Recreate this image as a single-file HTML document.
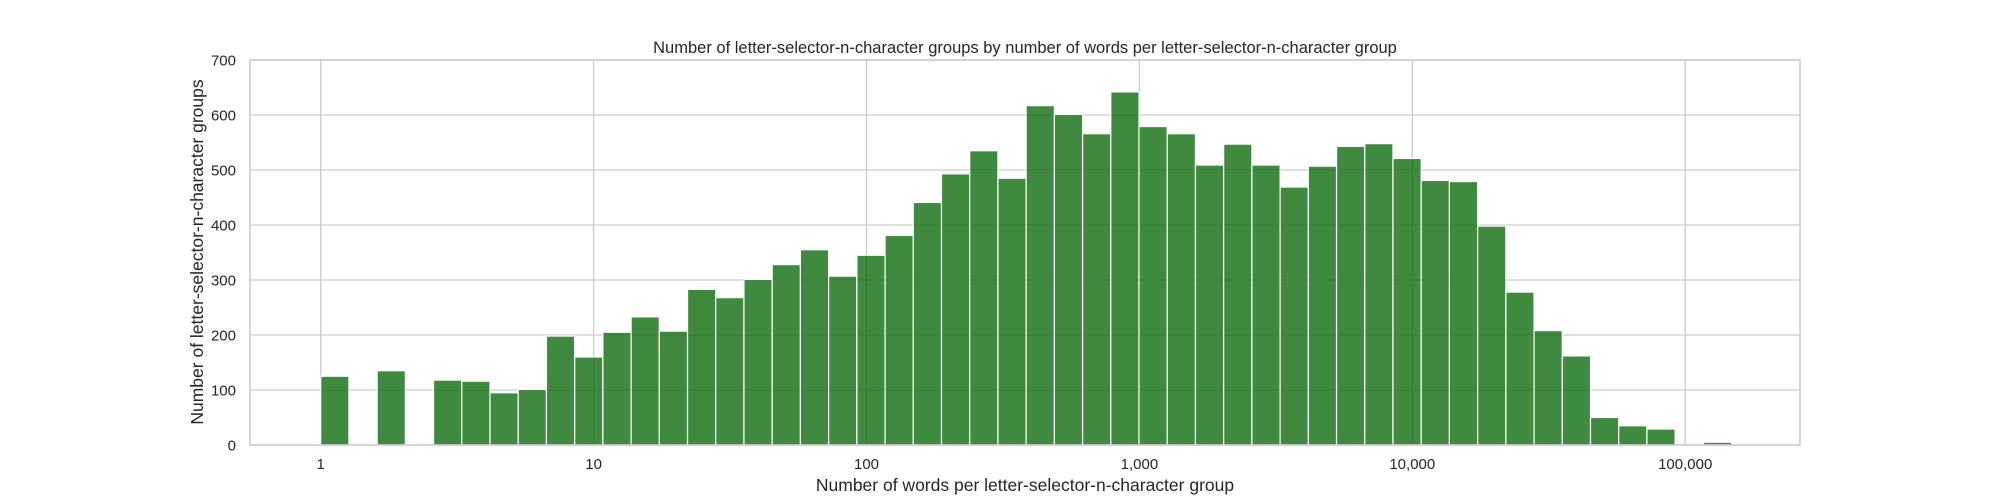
<!DOCTYPE html>
<html><head><meta charset="utf-8"><style>
html,body{margin:0;padding:0;background:#fff;}
svg{display:block;font-family:"Liberation Sans",Arial,sans-serif;}
</style></head><body>
<svg id="chart" width="2000" height="500" viewBox="0 0 2000 500">
<g id="grid"></g>
<g id="bars"></g>
<rect x="250" y="60" width="1550" height="385" fill="none" stroke="#cccccc" stroke-width="1.6"/>
<g id="yticks"></g>
<g id="xticks"></g>
<text x="1025" y="53" text-anchor="middle" font-size="16.5" fill="#262626">Number of letter-selector-n-character groups by number of words per letter-selector-n-character group</text>
<text x="1025" y="491" text-anchor="middle" font-size="17.5" fill="#262626">Number of words per letter-selector-n-character group</text>
<text transform="translate(203,252) rotate(-90)" text-anchor="middle" font-size="17.5" fill="#262626">Number of letter-selector-n-character groups</text>
</svg>
<script>
const counts = [125,0,135,0,118,116,95,101,198,160,205,233,207,283,268,301,328,355,307,345,381,441,493,535,485,617,601,566,642,579,566,509,547,509,469,507,543,548,521,481,479,398,278,208,162,50,35,29,0,5];
const binWidthLog = 0.1034;
const yTicks = [0,100,200,300,400,500,600,700];
const xTickValues = [1,10,100,1000,10000,100000];
const xTickLabels = ["1","10","100","1,000","10,000","100,000"];

const NS = "http://www.w3.org/2000/svg";
const X0 = 320.7, DEC = 272.9;
function xScale(v){ return X0 + Math.log10(v)*DEC; }
function xLog(l){ return X0 + l*DEC; }
const Y0 = 445, PPU = 0.55;
function yScale(v){ return Y0 - v*PPU; }

const grid = document.getElementById('grid');
const bars = document.getElementById('bars');
const yt = document.getElementById('yticks');
const xt = document.getElementById('xticks');

yTicks.forEach(t => {
  const l = document.createElementNS(NS,'line');
  l.setAttribute('x1',250); l.setAttribute('x2',1800);
  l.setAttribute('y1',yScale(t)); l.setAttribute('y2',yScale(t));
  l.setAttribute('stroke','#cccccc'); l.setAttribute('stroke-width','1.3');
  
  
  grid.appendChild(l);
  const tx = document.createElementNS(NS,'text');
  tx.setAttribute('x',236); tx.setAttribute('y',yScale(t)+5.5);
  tx.setAttribute('text-anchor','end'); tx.setAttribute('font-size','15'); tx.setAttribute('fill','#262626');
  tx.textContent = t;
  
  
  yt.appendChild(tx);
});
xTickValues.forEach((v,i) => {
  const x = xScale(v);
  const l = document.createElementNS(NS,'line');
  l.setAttribute('x1',x); l.setAttribute('x2',x);
  l.setAttribute('y1',60); l.setAttribute('y2',445);
  l.setAttribute('stroke','#cccccc'); l.setAttribute('stroke-width','1.3');
  
  
  grid.appendChild(l);
  const tx = document.createElementNS(NS,'text');
  tx.setAttribute('x',x); tx.setAttribute('y',469);
  tx.setAttribute('text-anchor','middle'); tx.setAttribute('font-size','15'); tx.setAttribute('fill','#262626');
  tx.textContent = xTickLabels[i];
  
  
  xt.appendChild(tx);
});
counts.forEach((c,i) => {
  if (c <= 0) return;
  const x1 = xLog(i*binWidthLog), x2 = xLog((i+1)*binWidthLog);
  const r = document.createElementNS(NS,'rect');
  r.setAttribute('x',x1); r.setAttribute('width',x2-x1);
  r.setAttribute('y',yScale(c)); r.setAttribute('height',Y0-yScale(c));
  r.setAttribute('fill','rgba(22,112,22,0.82)'); r.setAttribute('stroke','#ffffff'); r.setAttribute('stroke-width','1.2');
  
  
  bars.appendChild(r);
});
</script>
</body></html>
